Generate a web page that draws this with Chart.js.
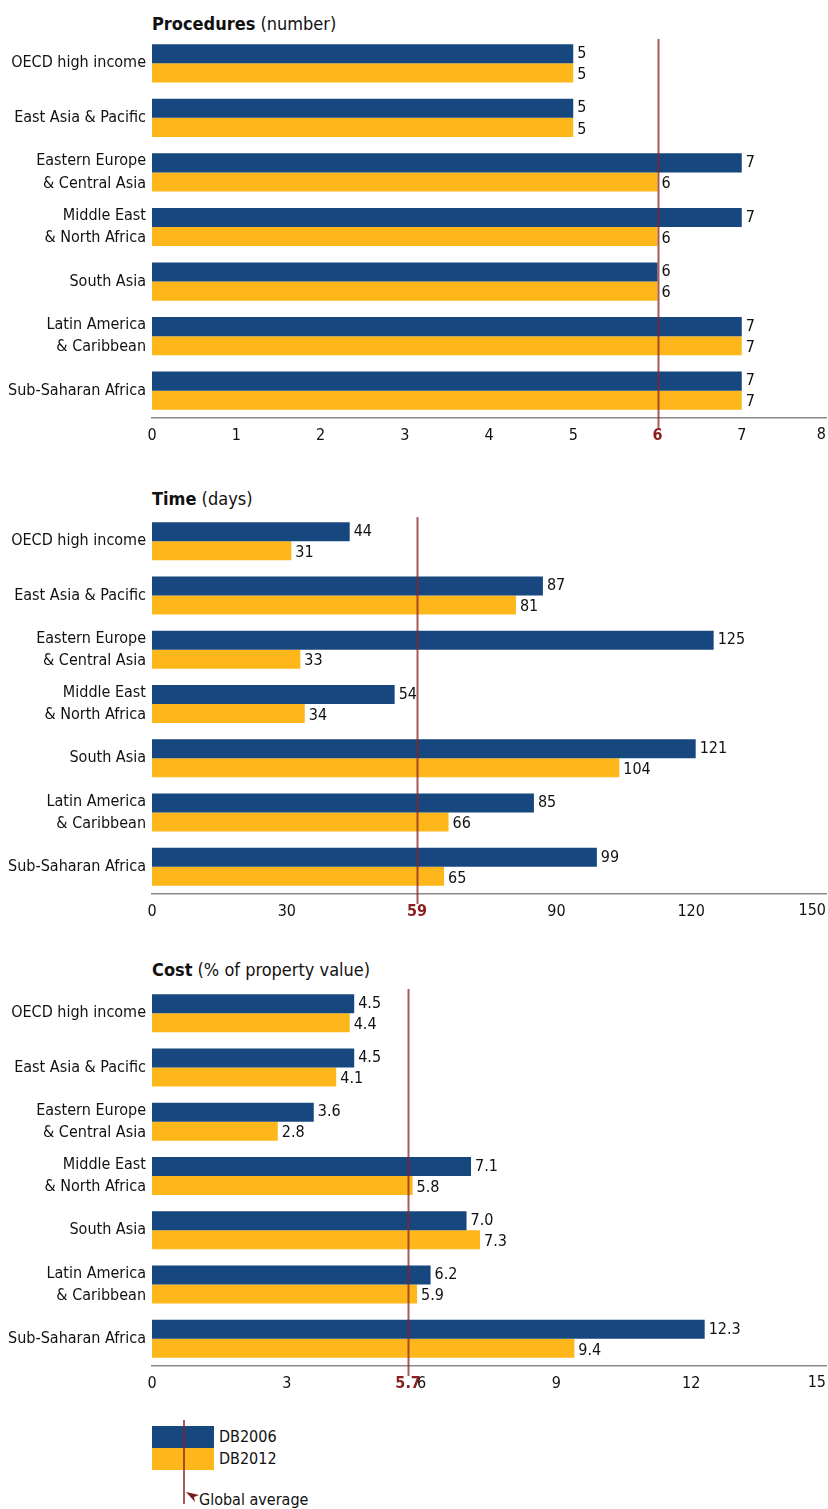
<!DOCTYPE html>
<html>
<head>
<meta charset="utf-8">
<script src="https://cdn.jsdelivr.net/npm/chart.js@4/dist/chart.umd.min.js"></script>
<style>
  body { margin: 0; background: #fff; font-family: "DejaVu Sans Condensed", "Liberation Sans Narrow", sans-serif; color: #111; }
  #wrap { position: relative; width: 828px; height: 1509px; }
  canvas { position: absolute; left: 0; }
  .title { position: absolute; left: 152px; font-size: 18px; line-height: 22px; white-space: nowrap; }
  .title b { font-weight: bold; }
  .lg { position: absolute; }
</style>
</head>
<body>
<div id="wrap">
  <div class="title" style="top:13px"><b>Procedures</b> (number)</div>
  <canvas id="c1" width="828" height="450" style="top:0"></canvas>
  <div class="title" style="top:488px"><b>Time</b> (days)</div>
  <canvas id="c2" width="828" height="451" style="top:475px"></canvas>
  <div class="title" style="top:959px"><b>Cost</b> (% of property value)</div>
  <canvas id="c3" width="828" height="448" style="top:950px"></canvas>

  <div class="lg" style="left:152px;top:1426px;width:62px;height:22px;background:#17477f"></div>
  <div class="lg" style="left:152px;top:1448px;width:62px;height:22px;background:#fdb71a"></div>
  <div class="lg" style="left:183px;top:1420px;width:2px;height:84px;background:rgba(139,35,35,0.75)"></div>
  <div class="lg" style="left:219px;top:1427px;font-size:16px;line-height:20px">DB2006</div>
  <div class="lg" style="left:219px;top:1449px;font-size:16px;line-height:20px">DB2012</div>
  <svg class="lg" style="left:185px;top:1491px" width="16" height="14"><polygon points="1,1 14,4 9,6 10,11" fill="#7a1c1c"/></svg>
  <div class="lg" style="left:199px;top:1490px;font-size:16px;line-height:20px">Global average</div>
</div>
<script>
const categories = [
  ['OECD high income'],
  ['East Asia & Pacific'],
  ['Eastern Europe', '& Central Asia'],
  ['Middle East', '& North Africa'],
  ['South Asia'],
  ['Latin America', '& Caribbean'],
  ['Sub-Saharan Africa']
];
const seriesNames = ['DB2006', 'DB2012'];

const procedures2006 = [5, 5, 7, 7, 6, 7, 7];
const procedures2012 = [5, 5, 6, 6, 6, 7, 7];
const procedureTicks = [0, 1, 2, 3, 4, 5, 6, 7, 8];
const procedureAverage = 6;

const time2006 = [44, 87, 125, 54, 121, 85, 99];
const time2012 = [31, 81, 33, 34, 104, 66, 65];
const timeTicks = [0, 30, 59, 90, 120, 150];
const timeAverage = 59;

const cost2006 = [4.5, 4.5, 3.6, 7.1, 7.0, 6.2, 12.3];
const cost2012 = [4.4, 4.1, 2.8, 5.8, 7.3, 5.9, 9.4];
const costTicks = [0, 3, 5.7, 6, 9, 12, 15];
const costAverage = 5.7;

const BLUE = '#17477f';
const YELLOW = '#fdb71a';
const RED = '#8b1e1e';
const FONT = '"DejaVu Sans Condensed", "Liberation Sans Narrow", sans-serif';

// value labels, global average line, and the last x tick kept inside the canvas
const extras = {
  id: 'extras',
  afterDatasetsDraw(chart, args, opts) {
    const ctx = chart.ctx;
    const x = chart.scales.x;
    ctx.save();
    ctx.font = '16px ' + FONT;
    ctx.fillStyle = '#111';
    ctx.textBaseline = 'middle';
    ctx.textAlign = 'left';
    chart.data.datasets.forEach((ds, i) => {
      chart.getDatasetMeta(i).data.forEach((bar, j) => {
        const v = ds.data[j];
        ctx.fillText(v.toFixed(opts.decimals), bar.x + 4, bar.y + (i === 1 ? 2 : 0));
      });
    });
    const ax = Math.round(x.getPixelForValue(opts.average)) + 0.5;
    ctx.strokeStyle = 'rgba(139,35,35,0.75)';
    ctx.lineWidth = 2;
    ctx.beginPath();
    ctx.moveTo(ax, chart.chartArea.top + 3);
    ctx.lineTo(ax, chart.chartArea.bottom + 10);
    ctx.stroke();

    const last = opts.ticks[opts.ticks.length - 1];
    ctx.textAlign = 'right';
    ctx.fillText(String(last), x.right, chart.chartArea.bottom + 17);
    ctx.restore();
  }
};

function makeChart(id, d2006, d2012, ticks, avg, decimals, padTop) {
  return new Chart(document.getElementById(id), {
    type: 'bar',
    data: {
      labels: categories,
      datasets: [
        { label: seriesNames[0], data: d2006, backgroundColor: BLUE },
        { label: seriesNames[1], data: d2012, backgroundColor: YELLOW }
      ]
    },
    options: {
      indexAxis: 'y',
      responsive: false,
      animation: false,
      layout: { padding: { top: padTop, right: 2, left: 0, bottom: 0 } },
      datasets: { bar: { barPercentage: 1, categoryPercentage: 0.7 } },
      plugins: {
        legend: { display: false },
        tooltip: { enabled: false },
        extras: { average: avg, decimals: decimals, ticks: ticks }
      },
      scales: {
        x: {
          min: ticks[0],
          max: ticks[ticks.length - 1],
          grid: { display: false, drawTicks: false },
          border: { display: true, color: '#8a8a8a', width: 1.5 },
          afterBuildTicks: s => { s.ticks = ticks.map(v => ({ value: v })); },
          afterFit: s => { s.height = 32; s.paddingLeft = 0; s.paddingRight = 0; },
          ticks: {
            padding: 8,
            maxRotation: 0,
            autoSkip: false,
            callback: (v, i, arr) => i === arr.length - 1 ? '' : String(v),
            color: c => c.tick && c.tick.value === avg ? RED : '#111',
            font: c => ({ family: FONT, size: 16, weight: c.tick && c.tick.value === avg ? 'bold' : 'normal' })
          }
        },
        y: {
          grid: { display: false, drawTicks: false },
          border: { display: false },
          afterFit: s => { s.width = 152; },
          ticks: {
            padding: 6,
            color: '#111',
            font: { family: FONT, size: 16, lineHeight: 1.4 }
          }
        }
      }
    },
    plugins: [extras]
  });
}

makeChart('c1', procedures2006, procedures2012, procedureTicks, procedureAverage, 0, 36);
makeChart('c2', time2006, time2012, timeTicks, timeAverage, 0, 39);
makeChart('c3', cost2006, cost2012, costTicks, costAverage, 1, 36);
</script>
</body>
</html>
